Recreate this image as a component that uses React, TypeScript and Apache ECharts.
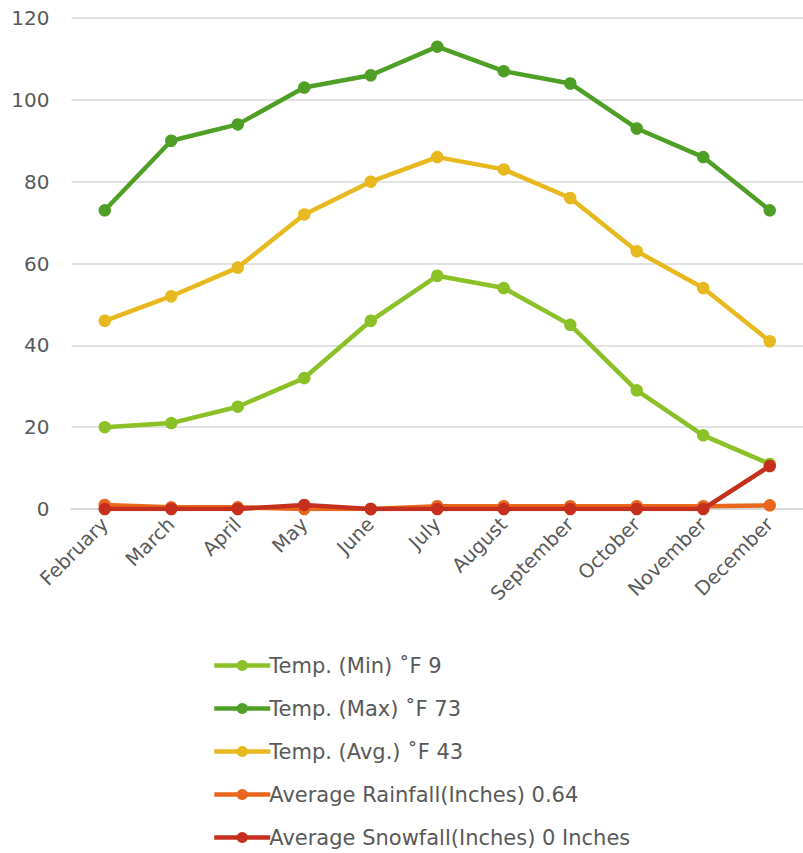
import React, { useEffect, useRef } from "react";
import * as echarts from "echarts";

const months = ["February", "March", "April", "May", "June", "July", "August", "September", "October", "November", "December"];
const tempMin = [20, 21, 25, 32, 46, 57, 54, 45, 29, 18, 11];
const tempMax = [73, 90, 94, 103, 106, 113, 107, 104, 93, 86, 73];
const tempAvg = [46, 52, 59, 72, 80, 86, 83, 76, 63, 54, 41];
const rainfall = [1.0, 0.4, 0.4, 0, 0, 0.7, 0.7, 0.7, 0.7, 0.7, 0.9];
const snowfall = [0, 0, 0, 1, 0, 0, 0, 0, 0, 0, 10.5];

const seriesNames = [
  "Temp. (Min) ˚F 9",
  "Temp. (Max) ˚F 73",
  "Temp. (Avg.) ˚F 43",
  "Average Rainfall(Inches) 0.64",
  "Average Snowfall(Inches) 0 Inches",
];
const colors = ["#8cc027", "#4f9f26", "#e7b91f", "#e8671c", "#c4301d"];

export default function App() {
  const ref = useRef<HTMLDivElement>(null);
  useEffect(() => {
    if (!ref.current) return;
    const chart = echarts.init(ref.current, undefined, { renderer: "svg" });
    const font = "DejaVu Sans";
    const data = [tempMin, tempMax, tempAvg, rainfall, snowfall];
    chart.setOption({
      animation: false,
      textStyle: { fontFamily: font },
      grid: { left: 71.5, top: 18, width: 736, height: 491 },
      legend: {
        orient: "vertical",
        left: 207,
        top: 650,
        itemWidth: 56,
        itemHeight: 14,
        itemGap: 22,
        data: seriesNames,
        lineStyle: { width: 4.5 },
        textStyle: { fontSize: 21, color: "#595959", fontFamily: font, padding: [0, 0, 0, -6] },
      },
      xAxis: {
        type: "category",
        data: months,
        boundaryGap: true,
        axisLine: { lineStyle: { color: "#d9d9d9", width: 2 } },
        axisTick: { show: false },
        axisLabel: { rotate: 45, fontSize: 19.5, color: "#595959", margin: 12, interval: 0 },
      },
      yAxis: {
        type: "value",
        min: 0,
        max: 120,
        interval: 20,
        axisLine: { show: false },
        axisTick: { show: false },
        splitLine: { lineStyle: { color: "#d9d9d9", width: 1.5 } },
        axisLabel: { fontSize: 20, color: "#595959", margin: 22 },
      },
      series: seriesNames.map((name, i) => ({
        name,
        type: "line",
        data: data[i],
        symbol: "circle",
        symbolSize: 12.5,
        lineStyle: { width: 4.5, color: colors[i] },
        itemStyle: { color: colors[i] },
        z: 2 + i,
      })),
    });
    return () => chart.dispose();
  }, []);
  return <div ref={ref} style={{ position: "absolute", left: 0, top: 0, width: 803, height: 853 }} />;
}
